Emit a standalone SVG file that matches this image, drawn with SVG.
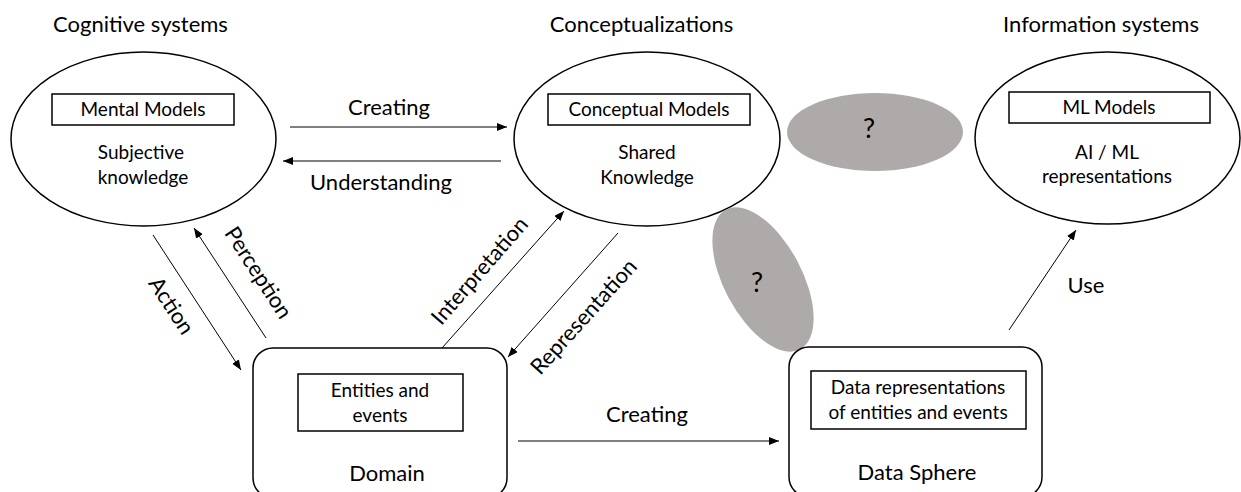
<svg xmlns="http://www.w3.org/2000/svg" width="1241" height="492" viewBox="0 0 1241 492">
<style>
text{font-family:Lato,"Liberation Sans",sans-serif;font-size:22px;fill:#000;text-anchor:middle}
text.in{font-size:19px}
text.q{font-size:27px}
.node{fill:#fff;stroke:#000;stroke-width:1.5}
.box{fill:#fff;stroke:#000;stroke-width:1.5}
.gray{fill:#AEAAAA;stroke:none}
.conn line{stroke:#000;stroke-width:1}
</style>
<defs>
<marker id="ah" markerUnits="userSpaceOnUse" markerWidth="11" markerHeight="9" refX="10" refY="4" orient="auto">
<path d="M0,0 L10,4 L0,8 z" fill="#000"/>
</marker>
</defs>
<rect width="1241" height="492" fill="#fff"/>
<text x="140.5" y="32">Cognitive systems</text>
<text x="641.5" y="32">Conceptualizations</text>
<text x="1101" y="32">Information systems</text>

<g id="cognitive">
<ellipse class="node" cx="143.5" cy="139" rx="132.5" ry="87"/>
<rect class="box" x="52" y="94" width="182" height="31"/>
<text class="in" x="143" y="116">Mental Models</text>
<text class="in" x="141" y="159">Subjective</text>
<text class="in" x="143" y="184">knowledge</text>
</g>

<g id="conceptual">
<ellipse class="node" cx="647" cy="139" rx="133" ry="87"/>
<rect class="box" x="548" y="94" width="202" height="31"/>
<text class="in" x="649" y="116">Conceptual Models</text>
<text class="in" x="647" y="159">Shared</text>
<text class="in" x="647" y="184">Knowledge</text>
</g>

<g id="information">
<ellipse class="node" cx="1107.5" cy="138" rx="132.5" ry="86"/>
<rect class="box" x="1009" y="92" width="201" height="31"/>
<text class="in" x="1109" y="114">ML Models</text>
<text class="in" x="1107" y="159">AI / ML</text>
<text class="in" x="1107" y="183">representations</text>
</g>

<g id="gap1">
<ellipse class="gray" cx="875" cy="132" rx="88" ry="39"/>
<text class="q" x="869" y="138">?</text>
</g>

<g id="gap2">
<ellipse class="gray" cx="763" cy="279.5" rx="39" ry="79" transform="rotate(-28 763 279.5)"/>
<text class="q" x="757" y="292">?</text>
</g>

<g id="domain">
<rect class="node" x="253" y="348" width="254" height="150" rx="20"/>
<rect class="box" x="298" y="374" width="165" height="57"/>
<text class="in" x="380" y="397">Entities and</text>
<text class="in" x="380" y="422">events</text>
<text x="387" y="481">Domain</text>
</g>

<g id="datasphere">
<rect class="node" x="789" y="347" width="253" height="150" rx="20"/>
<rect class="box" x="811" y="371" width="215" height="58"/>
<text class="in" x="918" y="394">Data representations</text>
<text class="in" x="918" y="419">of entities and events</text>
<text x="917" y="480">Data Sphere</text>
</g>

<g class="conn" id="connectors">
<line x1="290" y1="127" x2="507" y2="127" marker-end="url(#ah)"/>
<line x1="501" y1="161" x2="283" y2="161" marker-end="url(#ah)"/>
<line x1="153" y1="235" x2="241" y2="370" marker-end="url(#ah)"/>
<line x1="266" y1="338" x2="194" y2="228" marker-end="url(#ah)"/>
<line x1="442" y1="348" x2="564" y2="211" marker-end="url(#ah)"/>
<line x1="618" y1="233" x2="508" y2="357" marker-end="url(#ah)"/>
<line x1="518" y1="441" x2="779" y2="441" marker-end="url(#ah)"/>
<line x1="1009" y1="330" x2="1076" y2="230" marker-end="url(#ah)"/>
<text x="389" y="115">Creating</text>
<text x="381" y="190">Understanding</text>
<text x="647" y="422">Creating</text>
<text x="1086" y="293">Use</text>
<text transform="translate(171 306) rotate(57)" dy="7">Action</text>
<text transform="translate(258 273) rotate(57)" dy="7">Perception</text>
<text transform="translate(480 271) rotate(-49)" dy="7">Interpretation</text>
<text transform="translate(584 317) rotate(-48)" dy="7">Representation</text>
</g>
</svg>
